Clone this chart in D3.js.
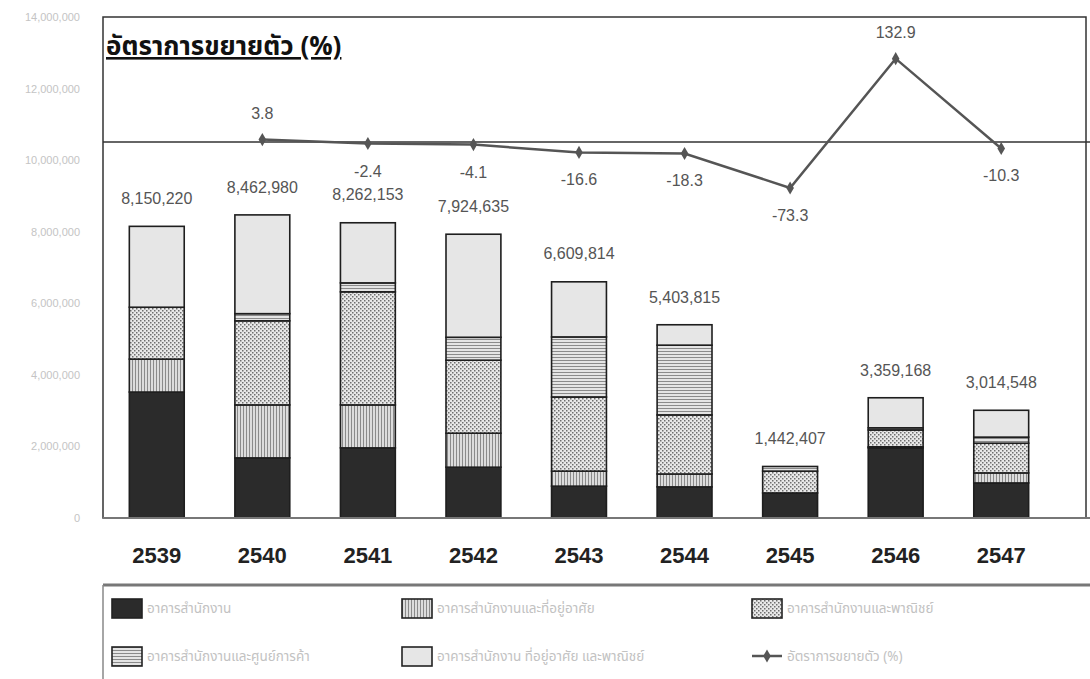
<!DOCTYPE html>
<html>
<head>
<meta charset="utf-8">
<script src="https://cdn.jsdelivr.net/npm/d3@7"></script>
<style>
  body { margin: 0; background: #fff; }
  svg { display: block; font-family: "Liberation Sans", Arial, sans-serif; }
  .thai { font-family: "Noto Sans Thai", "Tahoma", "Noto Sans", sans-serif; }
</style>
</head>
<body>
<svg id="chart" width="1090" height="679"></svg>
<script>
// Office building supply by type (stacked) + growth rate line

const years = ["2539", "2540", "2541", "2542", "2543", "2544", "2545", "2546", "2547"];

const seriesNames = [
    "อาคารสำนักงาน",
    "อาคารสำนักงานและที่อยู่อาศัย",
    "อาคารสำนักงานและพาณิชย์",
    "อาคารสำนักงานและศูนย์การค้า",
    "อาคารสำนักงาน ที่อยู่อาศัย และพาณิชย์"
];
const lineName = "อัตราการขยายตัว (%)";

// stacked series, bottom to top
const officeOnly   = [3520000, 1680000, 1960000, 1420000,  890000,  870000, 700000, 1960000, 980000];
const officeHome   = [ 920000, 1480000, 1200000,  950000,  420000,  360000,      0,   30000, 280000];
const officeShop   = [1450000, 2350000, 3160000, 2040000, 2070000, 1650000, 610000,  470000, 830000];
const officeMall   = [      0,  200000,  250000,  640000, 1680000, 1950000, 130000,   60000, 170000];
const officeMixed  = [2260000, 2760000, 1680000, 2880000, 1540000,  570000,      0,  840000, 750000];

const totals = [8150220, 8462980, 8262153, 7924635, 6609814, 5403815, 1442407, 3359168, 3014548];
const growth = [null, 3.8, -2.4, -4.1, -16.6, -18.3, -73.3, 132.9, -10.3];

const yTicks = [0, 2000000, 4000000, 6000000, 8000000, 10000000, 12000000, 14000000];

const svg = d3.select("#chart");
const plotL = 103, plotR = 1086, plotT = 17, plotB = 518;

const x = d3.scaleBand().domain(years).range([104, 1054]).paddingInner(0.48).paddingOuter(0.24);
const y = d3.scaleLinear().domain([0, 14000000]).range([plotB, plotT]);
const yG = d3.scaleLinear().domain([-100, 100]).range([204.7, 79.3]);

// patterns
const defs = svg.append("defs");
const vp = defs.append("pattern").attr("id", "vstripe").attr("patternUnits", "userSpaceOnUse")
    .attr("width", 3).attr("height", 3);
vp.append("rect").attr("width", 3).attr("height", 3).attr("fill", "#dcdcdc");
vp.append("rect").attr("width", 1).attr("height", 3).attr("fill", "#8a8a8a");

const hp = defs.append("pattern").attr("id", "hstripe").attr("patternUnits", "userSpaceOnUse")
    .attr("width", 3).attr("height", 3);
hp.append("rect").attr("width", 3).attr("height", 3).attr("fill", "#e4e4e4");
hp.append("rect").attr("width", 3).attr("height", 1).attr("fill", "#8a8a8a");

const cp = defs.append("pattern").attr("id", "cross").attr("patternUnits", "userSpaceOnUse")
    .attr("width", 4).attr("height", 4);
cp.append("rect").attr("width", 4).attr("height", 4).attr("fill", "#e8e8e8");
cp.append("rect").attr("x", 0).attr("y", 0).attr("width", 1.5).attr("height", 1.5).attr("fill", "#6e6e6e");
cp.append("rect").attr("x", 2).attr("y", 2).attr("width", 1.5).attr("height", 1.5).attr("fill", "#6e6e6e");

const fills = ["#2b2b2b", "url(#vstripe)", "url(#cross)", "url(#hstripe)", "#e6e6e6"];

// y axis labels (faint)
svg.append("g").selectAll("text").data(yTicks).join("text")
    .attr("x", 80).attr("y", d => y(d) + 4)
    .attr("text-anchor", "end")
    .attr("font-size", 11)
    .attr("fill", "#c4c4c4")
    .text(d => d3.format(",")(d));

// frame
svg.append("rect").attr("x", plotL).attr("y", plotT).attr("width", plotR - plotL).attr("height", plotB - plotT)
    .attr("fill", "none").attr("stroke", "#333").attr("stroke-width", 1.5);

// stacked bars
const rows = years.map((yr, i) => ({
    year: yr, s0: officeOnly[i], s1: officeHome[i], s2: officeShop[i], s3: officeMall[i], s4: officeMixed[i]
}));
const stack = d3.stack().keys(["s0", "s1", "s2", "s3", "s4"]);
const layers = stack(rows);

svg.append("g").selectAll("g").data(layers).join("g")
    .attr("fill", (d, i) => fills[i])
    .selectAll("rect").data(d => d.filter(p => p[1] > p[0])).join("rect")
    .attr("x", d => x(d.data.year))
    .attr("width", x.bandwidth())
    .attr("y", d => y(d[1]))
    .attr("height", d => y(d[0]) - y(d[1]))
    .attr("stroke", "#1e1e1e")
    .attr("stroke-width", 1.6);

// bottom axis line
svg.append("line").attr("x1", plotL).attr("x2", 1090).attr("y1", plotB).attr("y2", plotB)
    .attr("stroke", "#777").attr("stroke-width", 2);

// total labels
svg.append("g").selectAll("text").data(totals).join("text")
    .attr("x", (d, i) => x(years[i]) + x.bandwidth() / 2)
    .attr("y", d => y(d) - 22)
    .attr("text-anchor", "middle")
    .attr("font-size", 16)
    .attr("fill", "#555")
    .text(d => d3.format(",")(d));

// growth zero line
svg.append("line").attr("x1", plotL).attr("x2", 1090).attr("y1", yG(0)).attr("y2", yG(0))
    .attr("stroke", "#333").attr("stroke-width", 1.5);

const gPts = growth.map((g, i) => ({ year: years[i], g })).filter(d => d.g !== null);
const line = d3.line().x(d => x(d.year) + x.bandwidth() / 2).y(d => yG(d.g));

svg.append("path").datum(gPts)
    .attr("d", line)
    .attr("fill", "none").attr("stroke", "#555").attr("stroke-width", 2.5);

svg.append("g").selectAll("path").data(gPts).join("path")
    .attr("transform", d => `translate(${x(d.year) + x.bandwidth() / 2},${yG(d.g)})`)
    .attr("d", d3.symbol(d3.symbolDiamond, 50))
    .attr("fill", "#555");

svg.append("g").selectAll("text").data(gPts).join("text")
    .attr("x", d => x(d.year) + x.bandwidth() / 2)
    .attr("y", d => d.g >= 0 ? yG(d.g) - 21 : yG(d.g) + 33)
    .attr("text-anchor", "middle")
    .attr("font-size", 16)
    .attr("fill", "#555")
    .text(d => d.g.toFixed(1));

// title
svg.append("text").attr("class", "thai")
    .attr("x", 106).attr("y", 55)
    .attr("font-size", 26).attr("font-weight", "bold")
    .attr("fill", "#111")
    .attr("text-decoration", "underline")
    .text(lineName);

// x labels
svg.append("g").selectAll("text").data(years).join("text")
    .attr("x", d => x(d) + x.bandwidth() / 2)
    .attr("y", 563)
    .attr("text-anchor", "middle")
    .attr("font-size", 22).attr("font-weight", "bold")
    .attr("fill", "#222")
    .text(d => d);

// legend
svg.append("line").attr("x1", plotL).attr("x2", 1090).attr("y1", 585).attr("y2", 585)
    .attr("stroke", "#777").attr("stroke-width", 3);
svg.append("line").attr("x1", plotL).attr("x2", plotL).attr("y1", 585).attr("y2", 679)
    .attr("stroke", "#888").attr("stroke-width", 1.5);

const legendItems = seriesNames.map((n, i) => ({ name: n, fill: fills[i] }))
    .concat([{ name: lineName, line: true }]);
const legX = [112, 402, 752];
const legY = [608, 656];

const leg = svg.append("g").selectAll("g").data(legendItems).join("g")
    .attr("transform", (d, i) => `translate(${legX[i % 3]},${legY[Math.floor(i / 3)]})`);

leg.filter(d => !d.line).append("rect")
    .attr("x", 0).attr("y", -9).attr("width", 30).attr("height", 19)
    .attr("fill", d => d.fill).attr("stroke", "#222").attr("stroke-width", 1.6);

const lineLeg = leg.filter(d => d.line);
lineLeg.append("line").attr("x1", 0).attr("x2", 30).attr("y1", 0).attr("y2", 0)
    .attr("stroke", "#555").attr("stroke-width", 2.5);
lineLeg.append("path").attr("transform", "translate(15,0)")
    .attr("d", d3.symbol(d3.symbolDiamond, 50)).attr("fill", "#555");

leg.append("text").attr("class", "thai")
    .attr("x", 35).attr("y", 5)
    .attr("font-size", 13.5)
    .attr("fill", "#c2c2c2")
    .text(d => d.name);
</script>
</body>
</html>
